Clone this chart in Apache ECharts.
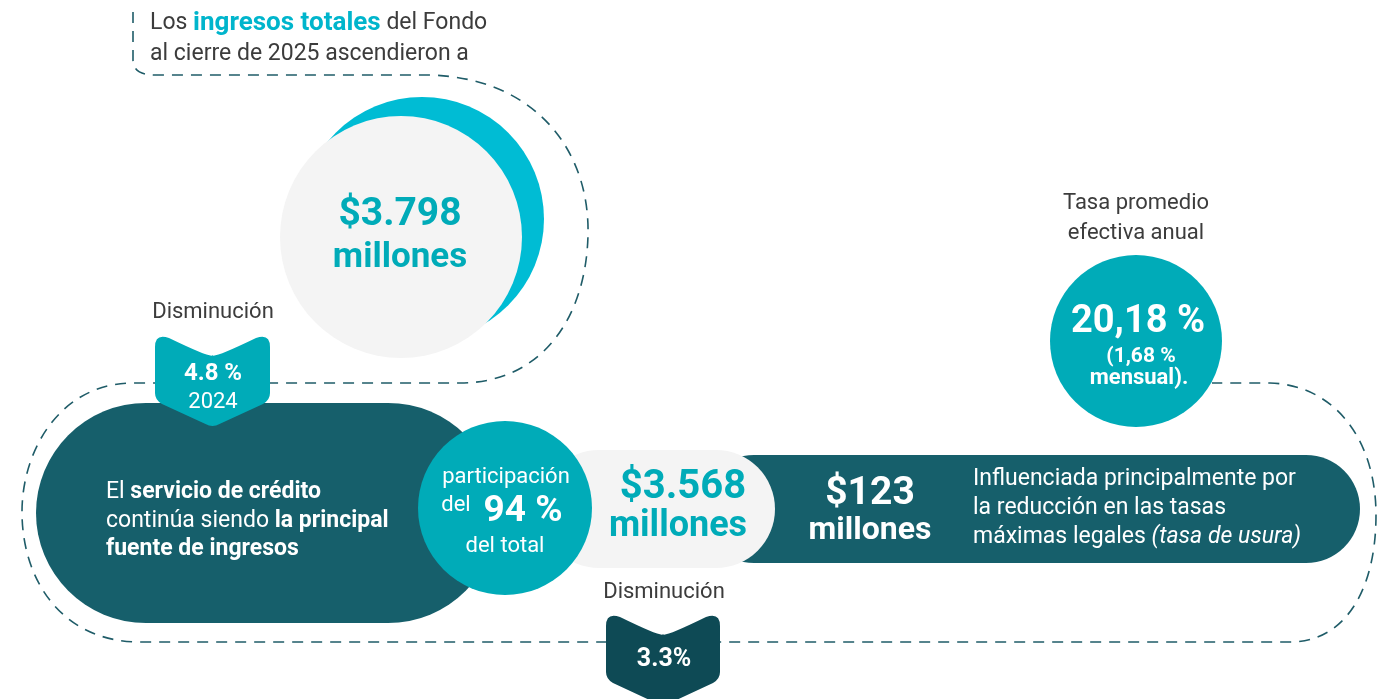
<!DOCTYPE html>
<html>
<head>
<meta charset="utf-8">
<script src="https://cdn.jsdelivr.net/npm/echarts@6/dist/echarts.min.js"></script>
<style>
html,body{margin:0;padding:0;background:#ffffff;}
#chart{width:1378px;height:699px;}
</style>
</head>
<body>
<div id="chart"></div>
<script>
// ---- data (texts / values read from the infographic) ----
const introLines = ['Los {b|ingresos totales} del Fondo', 'al cierre de 2025 ascendieron a'];
const totalIncome = ['$3.798', 'millones'];
const decreaseLabel = 'Disminución';
const decrease2024 = ['4.8 %', '2024'];
const creditLines = ['El {b|servicio de crédito}', 'continúa siendo {b|la principal}', '{b|fuente de ingresos}'];
const shareLines = ['participación', 'del', '94 %', 'del total'];
const creditIncome = ['$3.568', 'millones'];
const creditDecrease = '3.3%';
const dropAmount = ['$123', 'millones'];
const dropReason = ['Influenciada principalmente por', 'la reducción en las tasas', 'máximas legales {i|(tasa de usura)}'];
const rateTitle = ['Tasa promedio', 'efectiva anual'];
const rateValues = ['20,18 %', '(1,68 %', 'mensual).'];

// ---- styles ----
const FONT = 'Roboto, "Open Sans", sans-serif';
const C_DARK = '#165F6B';
const C_TEAL = '#00ABB8';
const C_CYAN = '#00BCD4';
const C_TITLE = '#00B5CC';
const C_GRAY_BG = '#F4F4F4';
const C_TEXT = '#3C3C3C';
const C_DASH = '#1F5C68';
const C_BADGE2 = '#0E4A55';

// simple absolute SVG path shape (M, L, Q, C, Z)
const SvgPathShape = echarts.graphic.extendShape({
  shape: { d: '' },
  buildPath: function (ctx, shape) {
    const tokens = shape.d.match(/[MLQCZ]|-?[\d.]+/g) || [];
    let i = 0, cmd = null;
    const num = function () { return parseFloat(tokens[i++]); };
    while (i < tokens.length) {
      if (/[MLQCZ]/.test(tokens[i])) { cmd = tokens[i++]; }
      if (cmd === 'M') { ctx.moveTo(num(), num()); cmd = 'L'; }
      else if (cmd === 'L') { ctx.lineTo(num(), num()); }
      else if (cmd === 'Q') { const a = num(), b = num(), c = num(), d = num(); ctx.quadraticCurveTo(a, b, c, d); }
      else if (cmd === 'C') { const a = num(), b = num(), c = num(), d = num(), e = num(), f = num(); ctx.bezierCurveTo(a, b, c, d, e, f); }
      else if (cmd === 'Z') { ctx.closePath(); cmd = null; }
      else { i++; }
    }
  }
});
echarts.graphic.registerShape('svgPath', SvgPathShape);

function txt(text, x, y, size, opts) {
  opts = opts || {};
  return {
    type: 'text', z: opts.z || 20,
    style: {
      text: text, x: x, y: y,
      fontSize: size, fontFamily: FONT,
      fontWeight: opts.weight || 'normal',
      fontStyle: opts.style || 'normal',
      fill: opts.fill || C_TEXT,
      align: opts.align || 'center', textAlign: opts.align || 'center',
      verticalAlign: 'middle', textVerticalAlign: 'middle',
      rich: opts.rich
    }
  };
}

function badgePath(x, y, w, h) {
  const mx = x + w / 2;
  return 'M' + x + ' ' + (y + 14) +
    ' Q' + x + ' ' + y + ' ' + (x + 14) + ' ' + (y + 5) +
    ' Q' + mx + ' ' + (y + 26) + ' ' + mx + ' ' + (y + 22) +
    ' Q' + mx + ' ' + (y + 26) + ' ' + (x + w - 14) + ' ' + (y + 5) +
    ' Q' + (x + w) + ' ' + y + ' ' + (x + w) + ' ' + (y + 14) +
    ' L' + (x + w) + ' ' + (y + h - 34) +
    ' Q' + (x + w) + ' ' + (y + h - 27) + ' ' + (x + w - 7) + ' ' + (y + h - 23) +
    ' L' + (mx + 7) + ' ' + (y + h - 3) +
    ' Q' + mx + ' ' + (y + h + 1) + ' ' + (mx - 7) + ' ' + (y + h - 3) +
    ' L' + (x + 7) + ' ' + (y + h - 23) +
    ' Q' + x + ' ' + (y + h - 27) + ' ' + x + ' ' + (y + h - 34) + ' Z';
}

const dashPath =
  'M133 12 L133 60 Q133 75 155 75 L430 75 ' +
  'C535 78 590 150 588 235 C586 320 540 383 460 383 L130 383 ' +
  'C60 385 22 450 22 512 C22 580 62 642 140 642 L1290 642 ' +
  'C1345 642 1376 590 1376 515 C1376 440 1335 385 1270 383 L1212 383';

const boldRich = { b: { fontWeight: 'bold', fill: '#ffffff', color: '#ffffff', fontSize: 23, fontFamily: FONT } };

const graphics = [
  { type: 'svgPath', z: 1, shape: { d: dashPath },
    style: { fill: 'none', stroke: C_DASH, lineWidth: 1.6, lineDash: [11, 8] } },

  { type: 'circle', z: 5, shape: { cx: 422, cy: 219, r: 122 }, style: { fill: C_CYAN } },
  { type: 'circle', z: 6, shape: { cx: 401, cy: 237, r: 121 }, style: { fill: C_GRAY_BG } },

  { type: 'rect', z: 5, shape: { x: 36, y: 403, width: 462, height: 220, r: 110 }, style: { fill: C_DARK } },
  { type: 'rect', z: 5, shape: { x: 700, y: 455, width: 660, height: 108, r: 54 }, style: { fill: C_DARK } },
  { type: 'rect', z: 6, shape: { x: 540, y: 450, width: 235, height: 118, r: 59 }, style: { fill: C_GRAY_BG } },
  { type: 'circle', z: 7, shape: { cx: 505, cy: 508, r: 87 }, style: { fill: C_TEAL } },
  { type: 'circle', z: 7, shape: { cx: 1136, cy: 341, r: 86 }, style: { fill: C_TEAL } },

  { type: 'svgPath', z: 9, shape: { d: badgePath(155, 333, 115, 94) }, style: { fill: C_TEAL } },
  { type: 'svgPath', z: 9, shape: { d: badgePath(606, 612, 114, 94) }, style: { fill: C_BADGE2 } },

  txt(introLines[0], 150, 23, 23, { align: 'left', rich: { b: { fontWeight: 'bold', fill: C_TITLE, color: C_TITLE, fontSize: 26, fontFamily: FONT } } }),
  txt(introLines[1], 150, 54, 23, { align: 'left' }),

  txt(totalIncome[0], 400, 215, 39, { weight: 'bold', fill: C_TEAL }),
  txt(totalIncome[1], 400, 258, 35, { weight: 'bold', fill: C_TEAL }),

  txt(decreaseLabel, 213, 312, 22),
  txt(decrease2024[0], 213, 374, 24, { weight: 'bold', fill: '#ffffff' }),
  txt(decrease2024[1], 213, 402, 22, { fill: '#ffffff' }),

  txt(creditLines[0], 106, 492, 23, { align: 'left', fill: '#ffffff', rich: boldRich }),
  txt(creditLines[1], 106, 521, 23, { align: 'left', fill: '#ffffff', rich: boldRich }),
  txt(creditLines[2], 106, 549, 23, { align: 'left', fill: '#ffffff', rich: boldRich }),

  txt(shareLines[0], 506, 477, 22, { fill: '#ffffff' }),
  txt(shareLines[1], 456, 505, 22, { fill: '#ffffff' }),
  txt(shareLines[2], 523, 512, 37, { weight: 'bold', fill: '#ffffff' }),
  txt(shareLines[3], 505, 546, 22, { fill: '#ffffff' }),

  txt(creditIncome[0], 683, 488, 40, { weight: 'bold', fill: C_TEAL }),
  txt(creditIncome[1], 678, 527, 36, { weight: 'bold', fill: C_TEAL }),

  txt(decreaseLabel, 664, 592, 22),
  txt(creditDecrease, 664, 660, 25, { weight: 'bold', fill: '#ffffff' }),

  txt(dropAmount[0], 870, 494, 39, { weight: 'bold', fill: '#ffffff' }),
  txt(dropAmount[1], 870, 531, 32, { weight: 'bold', fill: '#ffffff' }),

  txt(dropReason[0], 973, 479, 23, { align: 'left', fill: '#ffffff' }),
  txt(dropReason[1], 973, 508, 23, { align: 'left', fill: '#ffffff' }),
  txt(dropReason[2], 973, 537, 23, { align: 'left', fill: '#ffffff',
    rich: { i: { fontStyle: 'italic', fill: '#ffffff', color: '#ffffff', fontSize: 23, fontFamily: FONT } } }),

  txt(rateTitle[0], 1136, 203, 22),
  txt(rateTitle[1], 1136, 233, 22),
  txt(rateValues[0], 1138, 322, 38, { weight: 'bold', fill: '#ffffff' }),
  txt(rateValues[1], 1141, 357, 21, { weight: 'bold', fill: '#ffffff' }),
  txt(rateValues[2], 1139, 378, 22, { weight: 'bold', fill: '#ffffff' })
];

const chart = echarts.init(document.getElementById('chart'), null, { renderer: 'canvas' });
chart.setOption({
  backgroundColor: '#ffffff',
  animation: false,
  graphic: { elements: graphics }
});
</script>
</body>
</html>
